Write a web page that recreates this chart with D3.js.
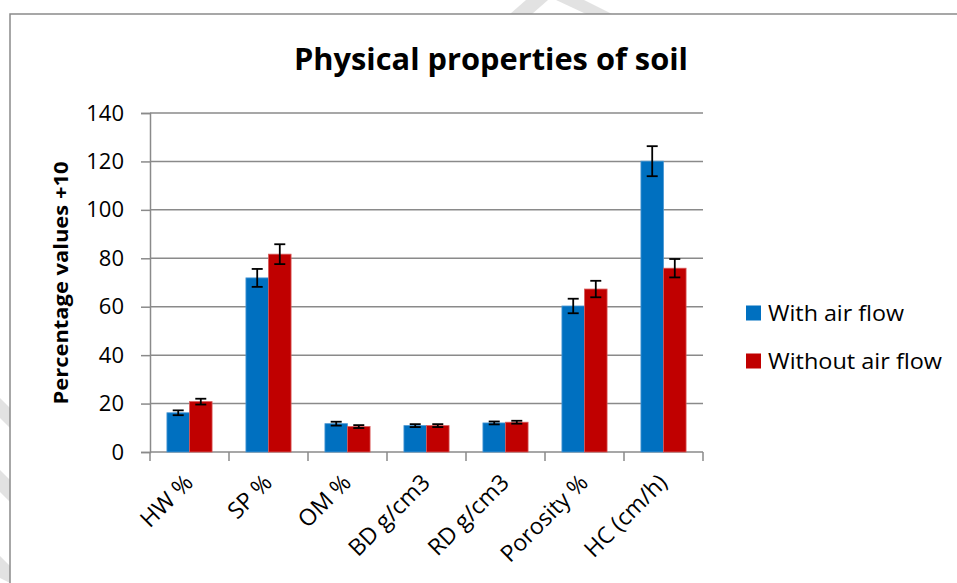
<!DOCTYPE html>
<html>
<head>
<meta charset="utf-8">
<script src="https://cdn.jsdelivr.net/npm/d3@7"></script>
<style>
    body { margin:0; background:#fff; }
    svg  { display:block; font-family:"Open Sans", sans-serif; }
</style>
</head>
<body>
<svg id="chart" width="957" height="583"></svg>
<script>
//Chart data
var categories    = ["HW %","SP %","OM %","BD g/cm3","RD g/cm3","Porosity %","HC (cm/h)"];
var seriesNames   = ["With air flow","Without air flow"];
var withAir       = [16.2, 71.9, 11.7, 10.9, 12.0, 60.3, 120.1];
var withAirErr    = [1.0, 3.7, 0.8, 0.6, 0.6, 3.0, 6.2];
var withoutAir    = [20.8, 81.7, 10.5, 10.9, 12.3, 67.3, 75.9];
var withoutAirErr = [1.2, 4.1, 0.6, 0.6, 0.6, 3.4, 3.8];
var yTicks        = [0, 20, 40, 60, 80, 100, 120, 140];
var colors        = ["#0070C0","#C00000"];
var edgeColors    = ["#4a97d3","#d85a5a"];

var svg = d3.select('#chart');

//Faint watermark behind the chart box
var wm = svg.append('g').attr('fill','#e2e2e2');
[
    [[510,14],[532,14],[548,0],[526,0]],
    [[556,0],[584,0],[612,14],[586,14]],
    [[0,470],[0,492],[10,502],[10,480]],
    [[0,398],[0,418],[10,428],[10,408]],
    [[0,556],[0,578],[10,583],[10,566]]
].forEach(function(p){
    wm.append('polygon').attr('points', p.map(function(d){ return d.join(','); }).join(' '));
});

//Chart box
svg.append('rect')
    .attr('x',10).attr('y',14)
    .attr('width',980).attr('height',600)
    .attr('fill','#fff')
    .attr('stroke','#8a8a8a')
    .attr('stroke-width',1.5);

//Scales
var x0 = d3.scaleBand().domain(categories).range([150,703]).padding(0);
var x1 = d3.scaleBand().domain([0,1]).range([0,x0.bandwidth()]).paddingInner(0).paddingOuter(0.75);
var y  = d3.scaleLinear().domain([0,140]).range([452,113]);

//Gridlines
svg.append('g').selectAll('line').data(yTicks.slice(1)).enter().append('line')
    .attr('x1',150).attr('x2',703)
    .attr('y1',function(d){ return y(d); })
    .attr('y2',function(d){ return y(d); })
    .attr('stroke','#8a8a8a').attr('stroke-width',1.5);

//Y axis
var yAxis = svg.append('g')
    .attr('transform','translate(150,0)')
    .call(d3.axisLeft(y).tickValues(yTicks).tickSize(9).tickPadding(17));
yAxis.attr('font-size',null).attr('font-family',null);
yAxis.select('.domain').attr('stroke','#8a8a8a').attr('stroke-width',1.5);
yAxis.selectAll('.tick line').attr('stroke','#8a8a8a').attr('stroke-width',1.5);
yAxis.selectAll('.tick text')
    .style('font-family','"Open Sans", sans-serif')
    .style('font-size','22px')
    .attr('fill','#000');

//X axis (ticks on category boundaries)
var xBounds = categories.map(function(c){ return x0(c); }).concat([703]);
svg.append('line')
    .attr('x1',150).attr('x2',703).attr('y1',452).attr('y2',452)
    .attr('stroke','#8a8a8a').attr('stroke-width',1.5);
svg.append('g').selectAll('line').data(xBounds).enter().append('line')
    .attr('x1',function(d){ return d; })
    .attr('x2',function(d){ return d; })
    .attr('y1',452).attr('y2',461)
    .attr('stroke','#8a8a8a').attr('stroke-width',1.5);

//Category labels, rotated
svg.append('g').selectAll('text').data(categories).enter().append('text')
    .attr('transform',function(d){
        return 'translate(' + (x0(d) + x0.bandwidth()/2 + 5) + ',484) rotate(-45)';
    })
    .attr('text-anchor','end')
    .style('font-size','23px')
    .text(function(d){ return d; });

//Bars
var series = [
     {vals:withAir,    errs:withAirErr}
    ,{vals:withoutAir, errs:withoutAirErr}
];
series.forEach(function(s,si){
    var g = svg.append('g');
    g.selectAll('rect').data(categories).enter().append('rect')
        .attr('x',function(c){ return x0(c) + x1(si); })
        .attr('y',function(c,i){ return y(s.vals[i]); })
        .attr('width',x1.bandwidth())
        .attr('height',function(c,i){ return y(0) - y(s.vals[i]); })
        .attr('fill',colors[si])
        .attr('stroke',edgeColors[si])
        .attr('stroke-width',0.8);

    //Error bars
    var eb = svg.append('g').attr('stroke','#000').attr('stroke-width',1.8);
    categories.forEach(function(c,i){
        var cx = x0(c) + x1(si) + x1.bandwidth()/2;
        var hi = y(s.vals[i] + s.errs[i]);
        var lo = y(s.vals[i] - s.errs[i]);
        eb.append('line').attr('x1',cx).attr('x2',cx).attr('y1',hi).attr('y2',lo);
        eb.append('line').attr('x1',cx-5.5).attr('x2',cx+5.5).attr('y1',hi).attr('y2',hi);
        eb.append('line').attr('x1',cx-5.5).attr('x2',cx+5.5).attr('y1',lo).attr('y2',lo);
    });
});

//Title
svg.append('text')
    .attr('x',491).attr('y',70)
    .attr('text-anchor','middle')
    .style('font-size','31px')
    .attr('font-weight','bold')
    .attr('textLength',394)
    .attr('lengthAdjust','spacingAndGlyphs')
    .text('Physical properties of soil');

//Y axis title
svg.append('text')
    .attr('transform','translate(68,283) rotate(-90)')
    .attr('text-anchor','middle')
    .style('font-size','20px')
    .attr('font-weight','bold')
    .attr('textLength',243)
    .attr('lengthAdjust','spacingAndGlyphs')
    .text('Percentage values +10');

//Legend
var legend = svg.append('g');
seriesNames.forEach(function(n,i){
    var ly = 313 + i*48;
    legend.append('rect')
        .attr('x',746).attr('y',ly-7.5)
        .attr('width',15).attr('height',15)
        .attr('fill',colors[i]);
    legend.append('text')
        .attr('x',768).attr('y',ly)
        .attr('dy','0.36em')
        .style('font-size','22px')
        .attr('textLength',i == 0 ? 136 : 174)
        .attr('lengthAdjust','spacingAndGlyphs')
        .text(n);
});
</script>
</body>
</html>
